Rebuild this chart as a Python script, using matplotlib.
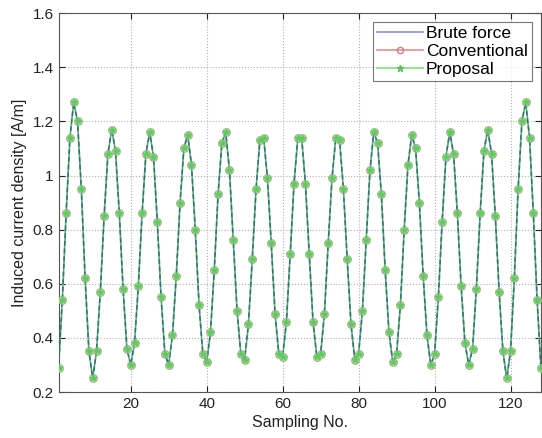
import matplotlib
matplotlib.use("Agg")
import matplotlib.pyplot as plt
from matplotlib.lines import Line2D
from matplotlib.ticker import FuncFormatter

sample_no = list(range(1, 129))
brute_force = [
    0.29, 0.54, 0.86, 1.14, 1.27, 1.20, 0.95, 0.62, 0.35, 0.25,
    0.35, 0.57, 0.85, 1.08, 1.17, 1.09, 0.86, 0.58, 0.36, 0.30,
    0.38, 0.59, 0.86, 1.08, 1.16, 1.07, 0.83, 0.55, 0.34, 0.30,
    0.41, 0.63, 0.90, 1.10, 1.15, 1.04, 0.80, 0.52, 0.34, 0.31,
    0.42, 0.65, 0.93, 1.12, 1.16, 1.02, 0.76, 0.50, 0.34, 0.32,
    0.45, 0.69, 0.95, 1.13, 1.14, 0.99, 0.75, 0.49, 0.34, 0.33,
    0.46, 0.71, 0.97, 1.14, 1.14, 0.97, 0.71, 0.46, 0.33, 0.34,
    0.49, 0.75, 0.99, 1.14, 1.13, 0.95, 0.69, 0.45, 0.32, 0.34,
    0.50, 0.76, 1.02, 1.16, 1.12, 0.93, 0.65, 0.42, 0.31, 0.34,
    0.52, 0.80, 1.04, 1.15, 1.10, 0.90, 0.63, 0.41, 0.30, 0.34,
    0.55, 0.83, 1.07, 1.16, 1.08, 0.86, 0.59, 0.38, 0.30, 0.36,
    0.58, 0.86, 1.09, 1.17, 1.08, 0.85, 0.57, 0.35, 0.25, 0.35,
    0.62, 0.95, 1.20, 1.27, 1.14, 0.86, 0.54, 0.29,
]
conventional = list(brute_force)
proposal = list(brute_force)

x_ticks = [20, 40, 60, 80, 100, 120]
y_ticks = [0.2, 0.4, 0.6, 0.8, 1.0, 1.2, 1.4, 1.6]
series_names = ["Brute force", "Conventional", "Proposal"]

plt.rcParams['font.family'] = ['Liberation Sans', 'DejaVu Sans']

fig = plt.figure(figsize=(5.42, 4.38), dpi=100)
ax = fig.add_axes([0.108, 0.105, 0.89, 0.865])

# Proposal (green base line)
ax.plot(sample_no, proposal, color='#70d870', lw=1.3, zorder=2)
# Conventional: dashed dark line with circle markers
ax.plot(sample_no, conventional, color='#3e6b78', lw=1.1, ls=(0, (3, 2)),
        marker='o', ms=5.5, mfc='#b8e2a6', mec='#a0b888', mew=0.9, zorder=3)
# Brute force thin line
ax.plot(sample_no, brute_force, color='#3a6aa0', lw=0.6, alpha=0.6, zorder=3)
ax.plot(sample_no, proposal, ls='none', marker='*', ms=4.0, color='#5ccc5c', zorder=4)

ax.set_xlim(1, 128)
ax.set_ylim(0.2, 1.6)
ax.set_xticks(x_ticks)
ax.set_yticks(y_ticks)
ax.yaxis.set_major_formatter(FuncFormatter(lambda v, p: f"{v:g}"))
ax.tick_params(direction='in', labelsize=11, length=4, top=True, right=True,
               colors='#222222')
ax.grid(True, ls=':', color='#b0b0b0', lw=0.8)
for s in ax.spines.values():
    s.set_color('#555555')
    s.set_linewidth(0.8)

ax.set_xlabel("Sampling No.", fontsize=11.5, color='#222222', labelpad=3)
ax.set_ylabel("Induced current density [A/m]", fontsize=11.5, color='#222222', labelpad=4)

handles = [
    Line2D([], [], color='#8c8ce0', lw=1.2),
    Line2D([], [], color='#e09090', lw=1.2, marker='o', ms=4.5, mfc='none', mec='#d08080'),
    Line2D([], [], color='#80e080', lw=1.2, marker='*', ms=4.5, mec='#60c060', mfc='#60c060'),
]
leg = ax.legend(handles, series_names, loc='upper right', fontsize=12.5,
                frameon=True, fancybox=False, edgecolor='#555555',
                borderpad=0.25, labelspacing=0.15, handlelength=2.6,
                handletextpad=0.2, borderaxespad=0.5)
leg.get_frame().set_linewidth(0.8)

fig.savefig("out.png", dpi=100, facecolor='white')
